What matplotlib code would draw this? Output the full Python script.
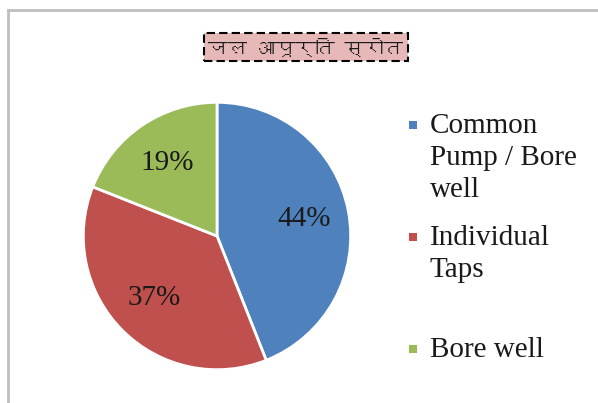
import matplotlib
matplotlib.use("Agg")
import matplotlib.pyplot as plt
from matplotlib import font_manager
from matplotlib.ft2font import FT2Font
from matplotlib.patches import Rectangle

title = "जल आपूर्ति स्रोत"
labels = ["Common\nPump / Bore\nwell", "Individual\nTaps", "Bore well"]
shares = [44, 37, 19]
colors = ["#4F81BD", "#C0504D", "#9BBB59"]


def find_devanagari_font():
    # look for any installed font that has Devanagari glyphs
    for f in font_manager.fontManager.ttflist:
        try:
            cmap = FT2Font(f.fname).get_charmap()
        except Exception:
            continue
        if ord("ज") in cmap and ord("्") in cmap:
            return f.name
    return None


deva = find_devanagari_font()
title_family = [deva, "DejaVu Sans"] if deva else ["DejaVu Sans"]

fig = plt.figure(figsize=(5.98, 4.03), dpi=100)

# grey chart-area frame (top and left edges visible)
fig.add_artist(plt.Line2D([8 / 598, 8 / 598], [0, 1 - 10 / 403], transform=fig.transFigure,
                          color="#BFBFBF", lw=2))
fig.add_artist(plt.Line2D([8 / 598, 1], [1 - 10 / 403, 1 - 10 / 403], transform=fig.transFigure,
                          color="#BFBFBF", lw=2))

ax = fig.add_axes([82 / 598, 1 - 371 / 403, 270 / 598, 270 / 403])
wedges, texts, autotexts = ax.pie(
    shares, colors=colors, startangle=90, counterclock=False,
    autopct=lambda p: f"{p:.0f}%", pctdistance=0.66,
    wedgeprops=dict(edgecolor="white", linewidth=2),
    textprops=dict(family="Liberation Serif", fontsize=21, color="#1a1a1a"),
)
ax.set_xlim(-1.01, 1.01)
ax.set_ylim(-1.01, 1.01)
ax.set_aspect("equal")

# title with pink box and dashed border
fig.text(306 / 598, 1 - 47 / 403, title, ha="center", va="center", fontsize=14,
         family=title_family, color="#1a1a1a",
         bbox=dict(boxstyle="square,pad=0.25", facecolor="#E6B9B8", edgecolor="black",
                   linestyle=(0, (4, 2)), linewidth=1.5))

# legend drawn entry by entry
for i, (lab, col) in enumerate(zip(labels, colors)):
    yc = 125 + i * 112
    fig.add_artist(Rectangle((409 / 598, 1 - (yc + 4) / 403), 8 / 598, 8 / 403,
                             transform=fig.transFigure, facecolor=col, edgecolor="none"))
    fig.text(430 / 598, 1 - (yc - 12) / 403, lab, ha="left", va="top", fontsize=21,
             family="Liberation Serif", color="#1a1a1a", linespacing=1.3)

fig.savefig("out.png", dpi=100)
